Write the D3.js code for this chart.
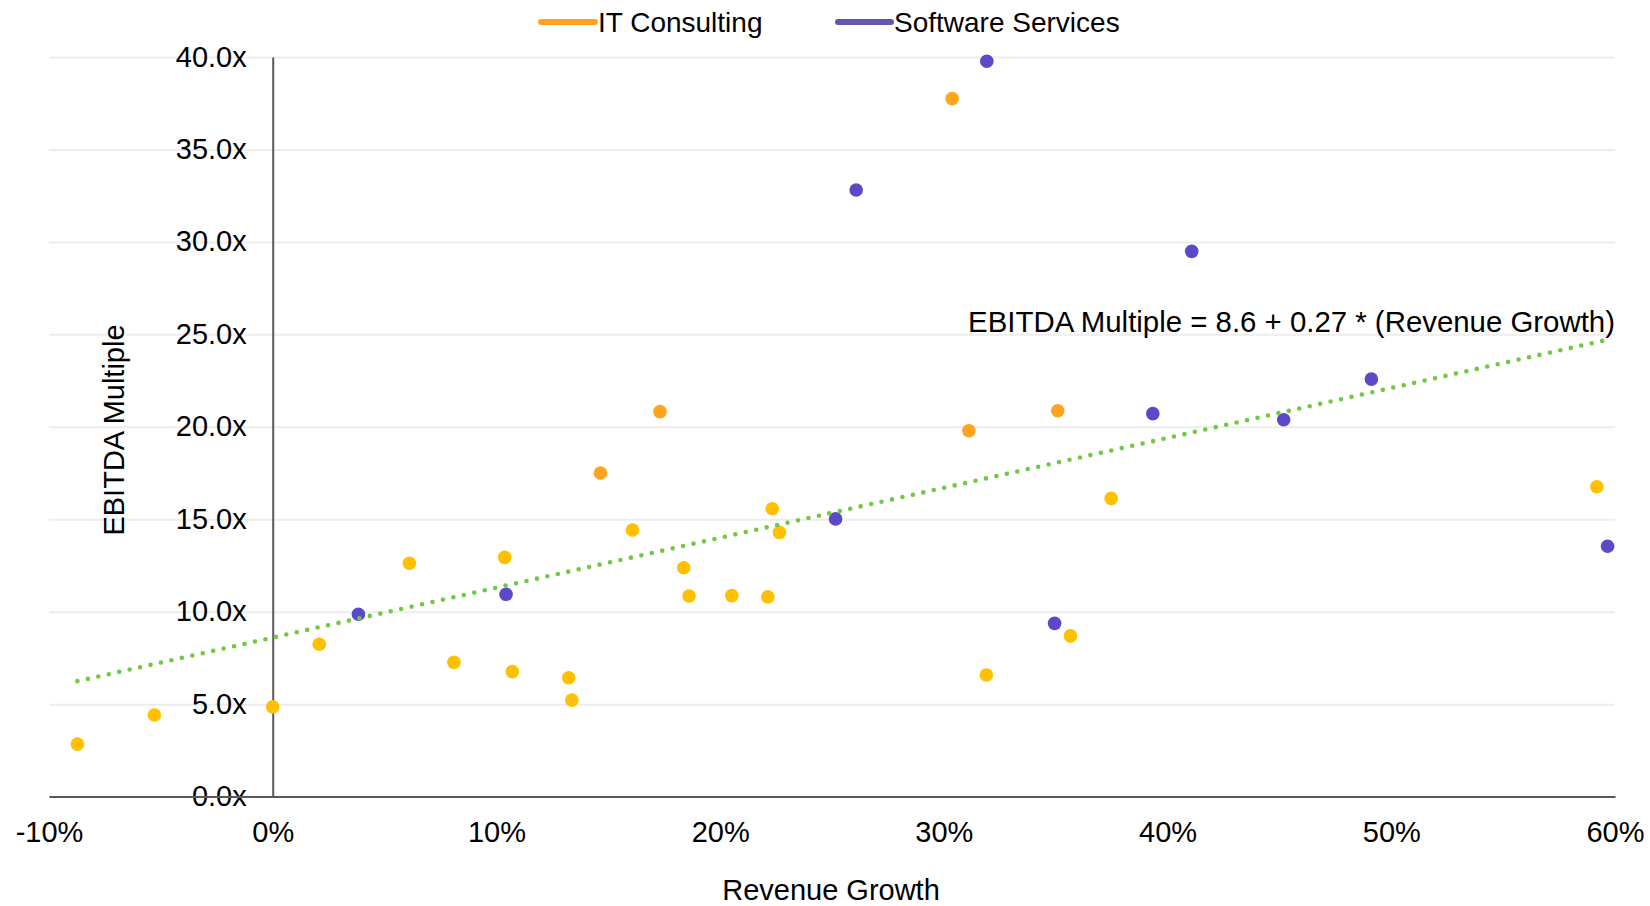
<!DOCTYPE html>
<html>
<head>
<meta charset="utf-8">
<script src="https://cdn.jsdelivr.net/npm/d3@7"></script>
<style>
  html, body { margin: 0; padding: 0; background: #fff; }
  svg { display: block; font-family: "Liberation Sans", Arial, Helvetica, sans-serif; }
</style>
</head>
<body>
<svg id="chart" width="1650" height="906"></svg>
<script>
// ---------- data ----------
const seriesNames = ["IT Consulting", "Software Services"];

// IT Consulting: revenue growth (%) and EBITDA multiple (x)
const itGrowth = [-8.73, -5.29, 0.0, 2.08, 6.11, 8.10, 10.37, 10.71, 13.23, 13.37,
                  14.65, 16.08, 17.31, 18.37, 18.61, 20.52, 22.13, 22.33, 22.65,
                  30.37, 31.12, 31.90, 35.09, 35.66, 37.48, 59.19];
const itMultiple = [2.84, 4.41, 4.85, 8.24, 12.62, 7.26, 12.94, 6.76, 6.43, 5.22,
                    17.50, 14.42, 20.82, 12.38, 10.85, 10.87, 10.80, 15.57, 14.29,
                    37.75, 19.79, 6.58, 20.87, 8.69, 16.13, 16.76];

// Software Services
const swGrowth = [3.83, 10.43, 25.16, 26.08, 31.92, 34.95, 39.34, 41.08, 45.19, 49.11, 59.67];
const swMultiple = [9.86, 10.94, 15.02, 32.81, 39.77, 9.37, 20.71, 29.49, 20.38, 22.58, 13.54];

// Trend line: EBITDA Multiple = 8.6 + 0.27 * (Revenue Growth)
const trendIntercept = 8.6;
const trendSlope = 0.27;
const trendLabel = "EBITDA Multiple = 8.6 + 0.27 * (Revenue Growth)";

const xTicks = [-10, 0, 10, 20, 30, 40, 50, 60];
const yTicks = [0, 5, 10, 15, 20, 25, 30, 35, 40];
const xTitle = "Revenue Growth";
const yTitle = "EBITDA Multiple";

// ---------- layout ----------
(function () {
const svg = d3.select("#chart");
const FONT = 29;
const pLeft = 49, pRight = 1615, pTop = 57, pBottom = 796.6;
const x = d3.scaleLinear().domain([-10, 60]).range([pLeft, pRight]);
const y = d3.scaleLinear().domain([0, 40]).range([pBottom, pTop]);

const colOrange = "#FFA41E";
const colYellow = "#FFC000";
const colPurple = "#5B4AC8";
const colPurpleLegend = "#6558B2";
const colGreen = "#70C843";
const axisCol = "#595959";

// gridlines
const grid = svg.append("g")
  .attr("transform", `translate(${pLeft},0)`)
  .call(d3.axisLeft(y).tickValues(yTicks).tickSize(-(pRight - pLeft)).tickFormat(""));
grid.select(".domain").remove();
grid.selectAll("line").attr("stroke", "#EDEDED").attr("stroke-width", 2);

// y axis at x = 0%
const yAxis = svg.append("g")
  .attr("transform", `translate(${x(0)},0)`)
  .call(d3.axisLeft(y).tickValues(yTicks).tickSize(0).tickSizeOuter(0).tickPadding(26)
        .tickFormat(d => d.toFixed(1) + "x"));
yAxis.select(".domain").attr("stroke", axisCol).attr("stroke-width", 2);
yAxis.selectAll("text").attr("font-size", FONT).attr("fill", "#000")
  .attr("font-family", "Liberation Sans, Arial, sans-serif").attr("dy", "0.31em");

// x axis at y = 0
const xAxis = svg.append("g")
  .attr("transform", `translate(0,${y(0)})`)
  .call(d3.axisBottom(x).tickValues(xTicks).tickSize(0).tickSizeOuter(0).tickPadding(25)
        .tickFormat(d => d + "%"));
xAxis.select(".domain").attr("stroke", axisCol).attr("stroke-width", 2);
xAxis.selectAll("text").attr("font-size", FONT).attr("fill", "#000")
  .attr("font-family", "Liberation Sans, Arial, sans-serif");

// axis titles
svg.append("text")
  .attr("x", (pLeft + pRight) / 2 - 1).attr("y", 900)
  .attr("text-anchor", "middle").attr("font-size", FONT).attr("fill", "#000")
  .text(xTitle);
svg.append("text")
  .attr("transform", `translate(124,430) rotate(-90)`)
  .attr("text-anchor", "middle").attr("font-size", FONT).attr("fill", "#000")
  .text(yTitle);

// points
const itData = itGrowth.map((g, i) => ({ g, m: itMultiple[i] }));
const swData = swGrowth.map((g, i) => ({ g, m: swMultiple[i] }));
const R = 6.8;

svg.append("g").selectAll("circle").data(itData).join("circle")
  .attr("cx", d => x(d.g)).attr("cy", d => y(d.m)).attr("r", R)
  .attr("fill", d => d.m > 17 ? colOrange : colYellow);
svg.append("g").selectAll("circle").data(swData).join("circle")
  .attr("cx", d => x(d.g)).attr("cy", d => y(d.m)).attr("r", R)
  .attr("fill", colPurple);

// trend line
const allGrowth = itGrowth.concat(swGrowth);
const gMin = d3.min(allGrowth), gMax = d3.max(allGrowth);
const trendPts = [gMin, gMax].map(g => [x(g), y(trendIntercept + trendSlope * g)]);
svg.append("path")
  .attr("d", d3.line()(trendPts))
  .attr("fill", "none").attr("stroke", colGreen).attr("stroke-width", 4.6)
  .attr("stroke-linecap", "round").attr("stroke-dasharray", "0 10.7");

svg.append("text")
  .attr("x", pRight).attr("y", 332).attr("text-anchor", "end")
  .attr("font-size", 29.4).attr("fill", "#000").text(trendLabel);

// legend
const legend = [
  { name: seriesNames[0], color: colOrange, x1: 541, x2: 595, tx: 598 },
  { name: seriesNames[1], color: colPurpleLegend, x1: 838, x2: 891, tx: 894 }
];
const lg = svg.append("g");
legend.forEach(l => {
  lg.append("line").attr("x1", l.x1).attr("x2", l.x2).attr("y1", 22).attr("y2", 22)
    .attr("stroke", l.color).attr("stroke-width", 6).attr("stroke-linecap", "round");
  lg.append("text").attr("x", l.tx).attr("y", 32).attr("font-size", 28)
    .attr("fill", "#000").text(l.name);
});
})();
</script>
</body>
</html>
